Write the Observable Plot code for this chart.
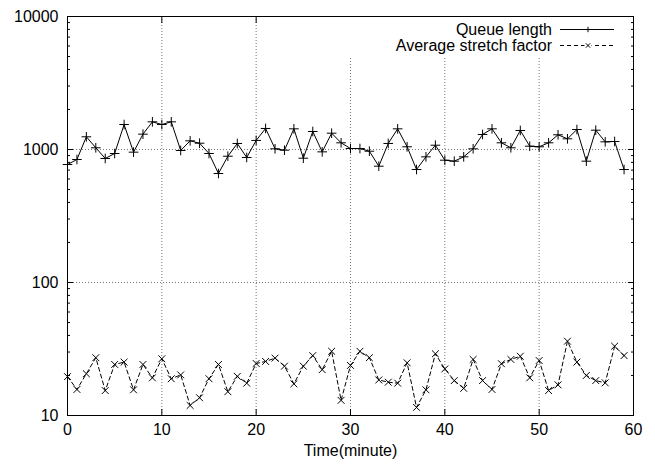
<!DOCTYPE html>
<html><head><meta charset="utf-8">
<script src="https://cdn.jsdelivr.net/npm/d3@7"></script>
<script src="https://cdn.jsdelivr.net/npm/@observablehq/plot@0.6"></script>
<style>
body{margin:0;background:#fff;font-family:"Liberation Sans",Arial,sans-serif;}
#wrap{position:relative;width:655px;height:467px;}
#legend{position:absolute;left:342px;top:17px;width:283px;height:40px;background:#fff;font-size:16px;color:#000;}
.row{position:absolute;left:0;width:283px;height:15px;}
.row span{position:absolute;right:73px;top:0;line-height:15px;height:15px;white-space:nowrap;}
.row svg{position:absolute;left:217px;top:-1px;}
</style></head><body><div id="wrap"></div>
<script>
const minutes = [0,1,2,3,4,5,6,7,8,9,10,11,12,13,14,15,16,17,18,19,20,21,22,23,24,25,26,27,28,29,
  30,31,32,33,34,35,36,37,38,39,40,41,42,43,44,45,46,47,48,49,50,51,52,53,54,55,56,57,58,59];
const queueLength = [771,841,1246,1030,856,933,1541,955,1304,1615,
  1541,1615,983,1162,1115,933,660,890,1110,871,
  1170,1439,1012,988,1430,860,1366,960,1326,1123,
  1017,1017,971,749,1110,1430,1048,707,881,1077,
  831,817,881,1012,1297,1430,1123,1030,1390,1059,
  1048,1123,1290,1203,1413,817,1397,1142,1149,707];
const stretchFactor = [19.6,15.7,20.6,27.2,15.4,24.2,25.2,15.6,24.2,19.2,
  26.7,18.9,20.2,11.9,13.6,18.9,24.2,15.1,19.7,17.5,
  24.6,25.5,27.0,23.5,17.3,23.5,28.2,22.1,30.4,13.0,
  23.8,30.4,27.2,18.5,17.8,17.5,24.9,11.5,15.6,29.1,
  22.4,18.3,16.0,26.4,18.3,15.7,24.5,26.4,27.9,19.2,
  25.9,15.4,17.0,36.2,25.2,20.0,18.3,17.6,33.2,28.2];
const seriesNames = ["Queue length", "Average stretch factor"];
const xTicks = [0,10,20,30,40,50,60];
const xGrid = [10,20,30,40,50];
const yTicks = [10,100,1000,10000];
const yGrid = [100,1000];
const yMinor = [20,30,40,50,60,70,80,90,200,300,400,500,600,700,800,900,2000,3000,4000,5000,6000,7000,8000,9000];
const xLabel = "Time(minute)";

const queueData = minutes.map((m,i)=>({t:m, v:queueLength[i]}));
const stretchData = minutes.map((m,i)=>({t:m, v:stretchFactor[i]}));

const gridStyle = {stroke:"#777", strokeDasharray:"1,2", strokeWidth:1};
const plot = Plot.plot({
  width:655, height:467,
  marginLeft:67, marginRight:22, marginTop:16, marginBottom:52,
  style:{fontFamily:"Liberation Sans, Arial, sans-serif", fontSize:"16px", background:"#fff", color:"#000"},
  x:{domain:[0,60], axis:null},
  y:{type:"log", domain:[10,10000], axis:null},
  marks:[
    Plot.ruleX(xGrid, gridStyle),
    Plot.ruleY(yGrid, gridStyle),
    Plot.axisX({anchor:"bottom", ticks:xTicks, tickSize:-6, tickPadding:14, tickFormat:d=>String(d), label:null, fontSize:16}),
    Plot.axisX({anchor:"top", ticks:xTicks, tickSize:-6, tickFormat:()=>"", label:null}),
    Plot.axisY({anchor:"left", ticks:yTicks, tickSize:-6, tickPadding:15, tickFormat:d=>String(d), label:null, fontSize:16}),
    Plot.axisY({anchor:"right", ticks:yTicks, tickSize:-6, tickFormat:()=>"", label:null}),
    Plot.axisY({anchor:"left", ticks:yMinor, tickSize:-3, tickFormat:()=>"", label:null}),
    Plot.axisY({anchor:"right", ticks:yMinor, tickSize:-3, tickFormat:()=>"", label:null}),
    Plot.lineY(queueData, {x:"t", y:"v", stroke:"#000", strokeWidth:1}),
    Plot.dot(queueData, {x:"t", y:"v", symbol:"plus", r:3.2, stroke:"#000", strokeWidth:1}),
    Plot.lineY(stretchData, {x:"t", y:"v", stroke:"#000", strokeWidth:1, strokeDasharray:"4,3"}),
    Plot.dot(stretchData, {x:"t", y:"v", symbol:"times", r:3.2, stroke:"#000", strokeWidth:1}),
    Plot.frame({stroke:"#000", strokeWidth:1}),
    Plot.text([xLabel], {frameAnchor:"bottom", dy:40, fontSize:16, fill:"#000"})
  ]
});
const wrap = document.getElementById("wrap");
wrap.appendChild(plot);

// legend (gnuplot-style key, drawn over the grid)
const legend = document.createElement("div");
legend.id = "legend";
seriesNames.forEach((name,i)=>{
  const row = document.createElement("div");
  row.className = "row";
  row.style.top = (5 + i*16) + "px";
  const s = document.createElement("span");
  s.textContent = name;
  row.appendChild(s);
  const ns = "http://www.w3.org/2000/svg";
  const svg = document.createElementNS(ns,"svg");
  svg.setAttribute("width","56"); svg.setAttribute("height","16");
  const ln = document.createElementNS(ns,"line");
  ln.setAttribute("x1","1"); ln.setAttribute("x2","55"); ln.setAttribute("y1","8.5"); ln.setAttribute("y2","8.5");
  ln.setAttribute("stroke","#000");
  if (i===1) ln.setAttribute("stroke-dasharray","4,3");
  svg.appendChild(ln);
  const p = document.createElementNS(ns,"path");
  p.setAttribute("d", i===0 ? "M29,5.8V11.2M26.3,8.5H31.7" : "M26.8,6.3L31.2,10.7M31.2,6.3L26.8,10.7");
  p.setAttribute("stroke","#000");
  if (i===1){ const bg=document.createElementNS(ns,"rect"); bg.setAttribute("x","25.5");bg.setAttribute("y","5");bg.setAttribute("width","7");bg.setAttribute("height","7");bg.setAttribute("fill","#fff"); svg.appendChild(bg);}
  svg.appendChild(p);
  row.appendChild(svg);
  legend.appendChild(row);
});
wrap.appendChild(legend);
</script>
</body></html>
